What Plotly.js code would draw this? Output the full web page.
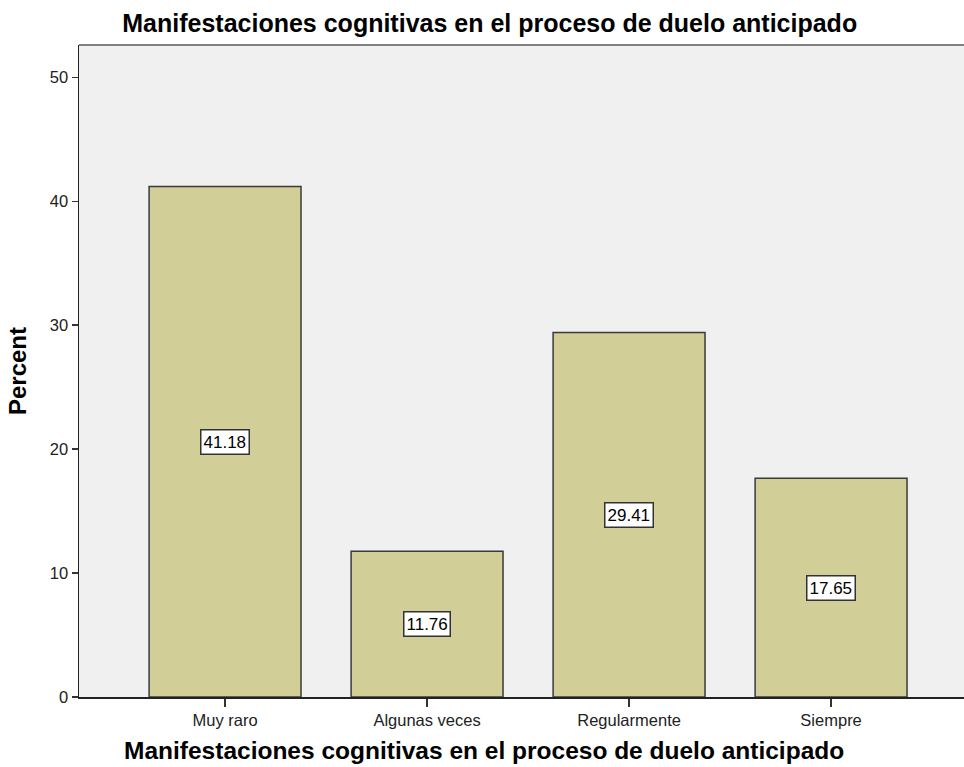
<!DOCTYPE html>
<html>
<head>
<meta charset="utf-8">
<script src="https://cdn.plot.ly/plotly-3.0.1.min.js"></script>
<style>html,body{margin:0;padding:0;background:#fff;}#chart{width:964px;height:767px;}</style>
</head>
<body>
<div id="chart"></div>
<script>
const categories = ["Muy raro", "Algunas veces", "Regularmente", "Siempre"];
const percents = [41.18, 11.76, 29.41, 17.65];
const labels = ["41.18", "11.76", "29.41", "17.65"];
const yTicks = [0, 10, 20, 30, 40, 50];
const chartTitle = "Manifestaciones cognitivas en el proceso de duelo anticipado";
const xTitle = "Manifestaciones cognitivas en el proceso de duelo anticipado";
const yTitle = "Percent";

const FONT = "Liberation Sans, Arial, sans-serif";
const idx = categories.map((c, i) => i);
const trace = {
  type: "bar",
  x: idx,
  y: percents,
  width: 0.752,
  marker: {color: "#d2ce98", line: {color: "#3a3a3a", width: 1.5}},
  hoverinfo: "skip"
};

const annotations = idx.map(i => ({
  x: i, y: percents[i] / 2, xref: "x", yref: "y",
  text: labels[i], showarrow: false,
  font: {family: FONT, size: 17, color: "#000"},
  bgcolor: "#ffffff", bordercolor: "#333", borderwidth: 1.5, borderpad: 2
}));
annotations.push({
  xref: "paper", yref: "paper", x: 0.458, y: -0.0813, xanchor: "center", yanchor: "middle",
  text: xTitle, showarrow: false,
  font: {family: FONT, size: 24.5, color: "#000", weight: "bold"}
});

const layout = {
  width: 964, height: 767,
  margin: {l: 79, r: 0, t: 45, b: 70},
  paper_bgcolor: "#ffffff",
  plot_bgcolor: "#f0f0f0",
  showlegend: false,
  title: {text: chartTitle, x: 0.508, xref: "container", xanchor: "center", y: 1, yref: "container", yanchor: "top", pad: {t: 14},
    font: {family: FONT, size: 25, color: "#000", weight: "bold"}},
  xaxis: {
    range: [-0.723, 3.658], tickmode: "array", tickvals: idx, ticktext: categories,
    ticks: "outside", ticklen: 8, tickwidth: 1.3, tickcolor: "#333",
    showline: true, linecolor: "#222", linewidth: 1.5, showgrid: false, zeroline: false,
    tickfont: {family: FONT, size: 16.5, color: "#222"}
  },
  yaxis: {
    range: [0, 52.6], tickmode: "array", tickvals: yTicks,
    ticks: "outside", ticklen: 6, tickwidth: 1.3, tickcolor: "#333",
    showline: true, linecolor: "#222", linewidth: 1.5, showgrid: false, zeroline: false,
    tickfont: {family: FONT, size: 16.5, color: "#222"},
    title: {text: yTitle, standoff: 16, font: {family: FONT, size: 24, color: "#000", weight: "bold"}}
  },
  shapes: [{type: "line", xref: "paper", yref: "paper", x0: 0, x1: 1, y0: 1, y1: 1, line: {color: "#808080", width: 2}}],
  annotations: annotations,
  bargap: 0.248
};

Plotly.newPlot("chart", [trace], layout, {staticPlot: true, displayModeBar: false});
</script>
</body>
</html>
